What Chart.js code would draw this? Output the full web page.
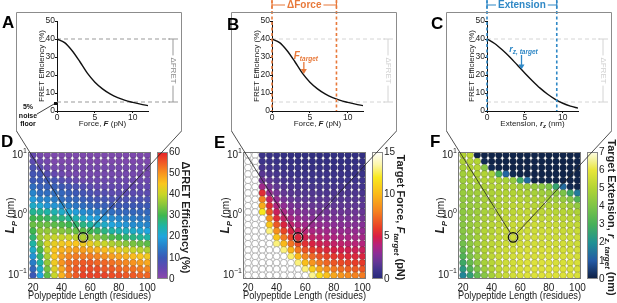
<!DOCTYPE html>
<html>
<head>
<meta charset="utf-8">
<title>FRET sensor design space</title>
<script src="https://cdn.jsdelivr.net/npm/chart.js@4.4.1/dist/chart.umd.min.js"></script>
<style>
  html, body { margin: 0; padding: 0; background: #fff; }
  #wrap { position: relative; width: 617px; height: 303px; overflow: hidden; }
  canvas { position: absolute; }
  #overlay { pointer-events: none; }
</style>
</head>
<body>
<div id="wrap">
  <canvas id="chartA" width="205" height="132" style="left:0;top:0"></canvas>
  <canvas id="chartB" width="205" height="132" style="left:215px;top:0"></canvas>
  <canvas id="chartC" width="187" height="132" style="left:430px;top:0"></canvas>
  <canvas id="chartD" width="205" height="175" style="left:0;top:128px"></canvas>
  <canvas id="chartE" width="205" height="175" style="left:215px;top:128px"></canvas>
  <canvas id="chartF" width="187" height="175" style="left:430px;top:128px"></canvas>
  <canvas id="overlay" width="617" height="303" style="left:0;top:0"></canvas>
</div>
<script>
const FONT = '"Liberation Sans", Arial, sans-serif';
Chart.defaults.font.family = FONT;

// top row: FRET efficiency vs force / extension
const forceX = [0, 1, 2, 3, 4, 5, 6, 7, 8, 9, 10, 11, 12];
const fretVsForce = [40, 38, 33.5, 27.5, 21, 16, 12.3, 9.5, 7.4, 5.9, 4.8, 3.8, 3.0];
const extX = [0, 1, 2, 3, 4, 5, 6, 7, 8, 9, 10, 11, 12];
const fretVsExt = [40, 37.5, 34, 30, 25.5, 21, 16.7, 12.7, 9.3, 6.5, 4.3, 2.7, 1.6];
const curveXTicks = [0, 5, 10];
const fretTicks = [0, 10, 20, 30, 40, 50];
const fretMax = 40, fretFloor = 5;
const deltaForceEnd = 8.5, forceTarget = 4.2, fretAtForceTarget = 20;
const deltaExtEnd = 9.2, extTarget = 4.55, fretAtExtTarget = 22.5;

// bottom row: grids over polypeptide length x persistence length
const lengths = [20, 25, 30, 35, 40, 45, 50, 55, 60, 65, 70, 75, 80, 85, 90, 95, 100];
const lpValues = [10, 7.848, 6.158, 4.833, 3.793, 2.976, 2.336, 1.833, 1.438, 1.129,
                  0.886, 0.695, 0.546, 0.428, 0.336, 0.264, 0.207, 0.162, 0.127, 0.1];
const lengthTicks = [20, 40, 60, 80, 100];
const lpTicks = [0.1, 1, 10];
const highlight = [55, 0.428];

// ΔFRET efficiency (%), rows top (Lp = 10) to bottom (Lp = 0.1)
const dfretRows = [
  [5, 3, 2, 2, 2, 2, 2, 2, 2, 2, 2, 2, 2, 2, 2, 2, 2],
  [6, 4, 3, 2, 2, 2, 2, 2, 2, 2, 2, 2, 2, 2, 2, 2, 2],
  [8, 6, 4, 3, 3, 3, 3, 3, 3, 3, 3, 3, 3, 3, 3, 3, 3],
  [9, 9, 7, 5, 4, 3, 3, 3, 3, 3, 3, 3, 3, 3, 3, 3, 3],
  [10, 10, 10, 9, 7, 6, 5, 4, 4, 4, 4, 4, 4, 4, 4, 4, 4],
  [13, 11, 11, 11, 10, 9, 8, 7, 6, 5, 5, 5, 5, 5, 5, 5, 5],
  [16, 13, 13, 13, 12, 11, 10, 9, 8, 7, 7, 6, 6, 6, 6, 6, 6],
  [19, 16, 16, 15, 13, 12, 12, 11, 10, 9, 9, 8, 8, 8, 8, 8, 8],
  [22, 21, 18, 18, 17, 15, 14, 13, 12, 11, 11, 10, 10, 10, 10, 10, 10],
  [26, 26, 25, 24, 22, 21, 19, 17, 16, 15, 14, 13, 12, 12, 12, 12, 12],
  [30, 30, 29, 28, 27, 26, 24, 22, 20, 19, 18, 17, 16, 15, 15, 14, 14],
  [33, 33, 33, 32, 31, 30, 28, 27, 25, 23, 22, 20, 19, 18, 17, 17, 16],
  [30, 36, 36, 36, 35, 34, 33, 32, 30, 29, 27, 25, 24, 23, 22, 21, 20],
  [28, 37, 39, 40, 40, 40, 39, 38, 36, 35, 33, 31, 30, 28, 27, 26, 25],
  [25, 34, 41, 43, 44, 45, 45, 44, 43, 41, 40, 38, 37, 35, 34, 33, 32],
  [22, 31, 40, 45, 47, 48, 49, 49, 48, 47, 46, 44, 43, 42, 40, 39, 38],
  [18, 28, 38, 45, 49, 51, 52, 52, 52, 51, 50, 49, 48, 47, 46, 45, 44],
  [15, 25, 36, 44, 50, 53, 54, 55, 55, 54, 54, 53, 52, 51, 50, 49, 48],
  [12, 22, 34, 42, 48, 53, 55, 56, 56, 56, 55, 55, 54, 53, 53, 52, 51],
  [10, 20, 32, 40, 47, 52, 55, 57, 57, 57, 57, 56, 56, 55, 55, 54, 54]
];

// target force (pN); null = no target (white circle)
const N = null;
const forceRows = [
  [N, N, 0.9, 0.8, 0.7, 0.6, 0.6, 0.5, 0.5, 0.5, 0.5, 0.5, 0.5, 0.5, 0.5, 0.5, 0.5],
  [N, N, 1.0, 0.9, 0.8, 0.7, 0.7, 0.6, 0.6, 0.6, 0.6, 0.6, 0.6, 0.6, 0.6, 0.6, 0.6],
  [N, N, 1.3, 1.1, 1.0, 0.9, 0.8, 0.8, 0.7, 0.7, 0.7, 0.7, 0.7, 0.7, 0.7, 0.7, 0.7],
  [N, N, 1.7, 1.4, 1.2, 1.1, 1.0, 0.9, 0.9, 0.9, 0.9, 0.9, 0.9, 0.9, 0.8, 0.8, 0.8],
  [N, N, 2.4, 1.8, 1.5, 1.3, 1.2, 1.1, 1.1, 1.0, 1.0, 1.0, 1.0, 1.0, 1.0, 1.0, 1.0],
  [N, N, 3.5, 2.4, 1.9, 1.6, 1.4, 1.3, 1.3, 1.2, 1.2, 1.2, 1.2, 1.2, 1.2, 1.2, 1.1],
  [N, N, 5.5, 3.3, 2.5, 2.0, 1.7, 1.6, 1.5, 1.5, 1.4, 1.4, 1.4, 1.4, 1.4, 1.4, 1.3],
  [N, N, 8.0, 4.5, 3.2, 2.5, 2.1, 1.9, 1.8, 1.7, 1.7, 1.7, 1.6, 1.6, 1.6, 1.6, 1.6],
  [N, N, 9.5, 5.5, 3.9, 3.1, 2.6, 2.3, 2.2, 2.1, 2.0, 2.0, 1.9, 1.9, 1.9, 1.9, 1.8],
  [N, N, 12, 6.8, 4.6, 3.7, 3.1, 2.8, 2.6, 2.5, 2.4, 2.3, 2.3, 2.2, 2.2, 2.2, 2.1],
  [N, N, N, 8.5, 5.5, 4.4, 3.7, 3.3, 3.0, 2.9, 2.8, 2.7, 2.6, 2.6, 2.5, 2.5, 2.4],
  [N, N, N, 10.5, 6.8, 5.2, 4.3, 3.8, 3.5, 3.3, 3.2, 3.1, 3.0, 2.9, 2.9, 2.8, 2.8],
  [N, N, N, 13, 8.5, 6.3, 5.1, 4.5, 4.1, 3.8, 3.6, 3.5, 3.4, 3.3, 3.3, 3.2, 3.2],
  [N, N, N, N, 10.5, 7.8, 6.2, 5.3, 4.8, 4.4, 4.2, 4.0, 3.9, 3.8, 3.7, 3.6, 3.6],
  [N, N, N, N, 13, 10, 7.6, 6.4, 5.6, 5.1, 4.8, 4.6, 4.4, 4.3, 4.2, 4.1, 4.0],
  [N, N, N, N, N, 13, 9.8, 7.8, 6.7, 6.0, 5.6, 5.3, 5.0, 4.9, 4.8, 4.7, 4.6],
  [N, N, N, N, N, N, 12.8, 10, 8.2, 7.2, 6.6, 6.2, 5.8, 5.6, 5.4, 5.3, 5.2],
  [N, N, N, N, N, N, N, 13, 10.2, 8.7, 7.8, 7.2, 6.7, 6.4, 6.2, 6.0, 5.9],
  [N, N, N, N, N, N, N, N, 13, 10.8, 9.4, 8.5, 7.8, 7.4, 7.1, 6.9, 6.7],
  [N, N, N, N, N, N, N, N, N, 13.2, 11.5, 10.3, 9.3, 8.7, 8.3, 8.0, 7.8]
];

// target extension (nm)
const extRows = [
  [5.0, 5.2, 0.1, 0.1, 0.1, 0.1, 0.1, 0.1, 0.1, 0.1, 0.1, 0.1, 0.1, 0.1, 0.1, 0.1, 0.1],
  [4.9, 5.1, 5.0, 0.2, 0.1, 0.1, 0.1, 0.1, 0.1, 0.1, 0.1, 0.1, 0.1, 0.1, 0.1, 0.1, 0.1],
  [4.8, 5.0, 5.1, 4.2, 0.2, 0.1, 0.1, 0.1, 0.1, 0.1, 0.1, 0.1, 0.1, 0.1, 0.1, 0.1, 0.1],
  [4.7, 4.9, 5.0, 5.0, 4.8, 3.0, 1.2, 0.2, 0.1, 0.1, 0.1, 0.1, 0.1, 0.1, 0.1, 0.1, 0.1],
  [4.6, 4.8, 4.9, 5.0, 5.0, 4.9, 4.8, 4.5, 2.8, 1.3, 0.1, 0.1, 0.1, 0.1, 0.1, 0.1, 0.1],
  [4.6, 4.7, 4.8, 4.9, 5.0, 5.0, 5.0, 4.9, 4.8, 4.7, 4.5, 4.3, 4.0, 2.6, 1.3, 0.2, 0.1],
  [4.5, 4.6, 4.7, 4.8, 4.9, 5.0, 5.0, 5.0, 5.0, 4.9, 4.8, 4.7, 4.6, 4.4, 4.0, 2.8, 1.6],
  [4.4, 4.5, 4.6, 4.8, 4.9, 5.0, 5.1, 5.1, 5.1, 5.0, 5.0, 4.9, 4.8, 4.7, 4.5, 4.2, 3.2],
  [4.4, 4.5, 4.6, 4.8, 4.9, 5.0, 5.1, 5.2, 5.2, 5.2, 5.1, 5.1, 5.0, 5.0, 4.9, 4.7, 4.4],
  [4.3, 4.5, 4.6, 4.8, 4.9, 5.1, 5.2, 5.2, 5.3, 5.3, 5.3, 5.2, 5.2, 5.1, 5.1, 5.0, 4.9],
  [4.3, 4.5, 4.7, 4.9, 5.0, 5.2, 5.3, 5.3, 5.4, 5.4, 5.4, 5.3, 5.3, 5.3, 5.2, 5.2, 5.1],
  [4.2, 4.5, 4.7, 4.9, 5.1, 5.2, 5.3, 5.4, 5.4, 5.5, 5.5, 5.4, 5.4, 5.4, 5.3, 5.3, 5.3],
  [4.2, 4.5, 4.7, 5.0, 5.1, 5.3, 5.4, 5.4, 5.5, 5.5, 5.5, 5.5, 5.5, 5.5, 5.4, 5.4, 5.4],
  [4.1, 4.4, 4.7, 5.0, 5.2, 5.3, 5.4, 5.5, 5.5, 5.6, 5.6, 5.6, 5.5, 5.5, 5.5, 5.5, 5.5],
  [3.8, 4.3, 4.7, 5.0, 5.2, 5.3, 5.5, 5.5, 5.6, 5.6, 5.6, 5.6, 5.6, 5.6, 5.6, 5.5, 5.5],
  [3.5, 4.2, 4.6, 5.0, 5.2, 5.4, 5.5, 5.6, 5.6, 5.7, 5.7, 5.7, 5.7, 5.6, 5.6, 5.6, 5.6],
  [3.2, 4.0, 4.5, 4.9, 5.2, 5.4, 5.5, 5.6, 5.7, 5.7, 5.7, 5.7, 5.7, 5.7, 5.7, 5.7, 5.6],
  [2.8, 3.6, 4.3, 4.8, 5.1, 5.4, 5.5, 5.6, 5.7, 5.8, 5.8, 5.8, 5.8, 5.7, 5.7, 5.7, 5.7],
  [2.3, 3.2, 4.0, 4.6, 5.0, 5.3, 5.5, 5.6, 5.7, 5.8, 5.8, 5.8, 5.8, 5.8, 5.8, 5.7, 5.7],
  [1.8, 2.5, 3.5, 4.2, 4.8, 5.2, 5.4, 5.6, 5.7, 5.8, 5.8, 5.8, 5.8, 5.8, 5.8, 5.8, 5.7]
];

const dfretCbTicks = [0, 10, 20, 30, 40, 50, 60];
const forceCbTicks = [0, 5, 10, 15];
const extCbTicks = [0, 1, 2, 3, 4, 5, 6, 7];

// colour maps (value, rgb)
const dfretStops = [[0, [142, 72, 172]], [5, [100, 72, 176]], [10, [60, 88, 182]], [15, [40, 125, 200]],
  [20, [32, 165, 222]], [25, [30, 180, 165]], [30, [62, 183, 80]], [35, [135, 198, 60]],
  [40, [200, 214, 40]], [45, [250, 198, 30]], [50, [248, 148, 30]], [55, [240, 90, 38]], [60, [228, 32, 42]]];
const forceStops = [[0, [38, 40, 120]], [1, [62, 52, 140]], [2, [100, 55, 150]], [3, [140, 45, 150]],
  [4, [180, 35, 125]], [5, [215, 30, 70]], [6, [232, 60, 40]], [8, [245, 130, 32]], [10, [250, 185, 25]],
  [12, [248, 232, 30]], [13.5, [252, 246, 170]], [15, [255, 255, 255]]];
const extStops = [[0, [14, 30, 64]], [1, [36, 90, 165]], [2, [32, 145, 148]], [3, [70, 175, 90]],
  [4, [125, 196, 72]], [5, [178, 212, 52]], [6, [232, 229, 58]], [7, [253, 253, 232]]];

const ORANGE = '#e8793a';
const BLUE = '#2f88c6';

function rgb(c) { return `rgb(${c.map(Math.round).join(',')})`; }
function colorMap(stops) {
  return v => {
    if (v <= stops[0][0]) return rgb(stops[0][1]);
    for (let i = 1; i < stops.length; i++) {
      if (v <= stops[i][0]) {
        const [v0, c0] = stops[i - 1], [v1, c1] = stops[i];
        const t = (v - v0) / (v1 - v0);
        return rgb(c0.map((c, k) => c + (c1[k] - c) * t));
      }
    }
    return rgb(stops[stops.length - 1][1]);
  };
}

// draw a run of text pieces [text, font, dy]
function richText(ctx, parts, x, y, align) {
  let w = 0;
  parts.forEach(p => { ctx.font = p[1]; w += ctx.measureText(p[0]).width; });
  let cx = align === 'center' ? x - w / 2 : x;
  ctx.textAlign = 'left';
  ctx.textBaseline = 'alphabetic';
  parts.forEach(p => {
    ctx.font = p[1];
    ctx.fillText(p[0], cx, y + (p[2] || 0));
    cx += ctx.measureText(p[0]).width;
  });
}

function seg(ctx, x1, y1, x2, y2) {
  ctx.beginPath(); ctx.moveTo(x1, y1); ctx.lineTo(x2, y2); ctx.stroke();
}

// dashed 40% / 5% lines with ΔFRET bracket
function fretBracket(lineColor, textColor) {
  return {
    id: 'fretBracket',
    beforeDatasetsDraw(chart) {
      const { ctx, chartArea: a, scales: { y } } = chart;
      const yTop = y.getPixelForValue(fretMax), yBot = y.getPixelForValue(fretFloor);
      const xEnd = a.left + 113, xb = a.left + 116;
      ctx.save();
      ctx.strokeStyle = lineColor; ctx.lineWidth = 1;
      ctx.setLineDash([4, 3]);
      seg(ctx, a.left, yTop, xEnd, yTop);
      seg(ctx, a.left, yBot, xEnd, yBot);
      ctx.setLineDash([]);
      seg(ctx, xb, yTop, xb, yBot);
      seg(ctx, xb - 5, yTop, xb + 5, yTop);
      seg(ctx, xb - 5, yBot, xb + 5, yBot);
      ctx.translate(xb, (yTop + yBot) / 2);
      ctx.rotate(Math.PI / 2);
      ctx.font = `8px ${FONT}`;
      const w = ctx.measureText('ΔFRET').width;
      ctx.fillStyle = '#fff';
      ctx.fillRect(-w / 2 - 2, -5, w + 4, 10);
      ctx.fillStyle = textColor;
      ctx.textAlign = 'center'; ctx.textBaseline = 'middle';
      ctx.fillText('ΔFRET', 0, 0);
      ctx.restore();
    }
  };
}

function xTitle(parts) {
  return {
    id: 'xTitle',
    afterDraw(chart) {
      const { ctx, chartArea: a } = chart;
      ctx.save();
      ctx.fillStyle = '#222';
      richText(ctx, parts, (a.left + a.right) / 2, 125.5, 'center');
      ctx.restore();
    }
  };
}

// range bracket + target arrow for panels B and C
function targetDecor(color, endX, label, tx, ty, labelParts, labelY) {
  return {
    id: 'targetDecor',
    afterDatasetsDraw(chart) {
      const { ctx, chartArea: a, scales: { x, y } } = chart;
      const x0 = x.getPixelForValue(0), x1 = x.getPixelForValue(endX);
      ctx.save();
      ctx.strokeStyle = color; ctx.lineWidth = 1.6;
      ctx.setLineDash([3, 2.5]);
      seg(ctx, x0, 0, x0, a.bottom);
      seg(ctx, x1, 0, x1, a.bottom);
      ctx.setLineDash([]);
      ctx.lineWidth = 1.2;
      seg(ctx, x0, 5, x1, 5);
      seg(ctx, x0, 1, x0, 9);
      seg(ctx, x1, 1, x1, 9);
      ctx.font = `bold 10px ${FONT}`;
      const w = ctx.measureText(label).width, cx = (x0 + x1) / 2;
      ctx.fillStyle = '#fff';
      ctx.fillRect(cx - w / 2 - 2, 0, w + 4, 11);
      ctx.fillStyle = color;
      ctx.textAlign = 'center'; ctx.textBaseline = 'middle';
      ctx.fillText(label, cx, 5.5);
      // arrow to the curve
      const ax = x.getPixelForValue(tx), tip = y.getPixelForValue(ty) - 1;
      ctx.lineWidth = 1.3;
      seg(ctx, ax, labelY + 3, ax, tip - 4);
      ctx.beginPath();
      ctx.moveTo(ax, tip); ctx.lineTo(ax - 3, tip - 5); ctx.lineTo(ax + 3, tip - 5);
      ctx.closePath(); ctx.fill();
      richText(ctx, labelParts, ax + 2, labelY, 'center');
      ctx.restore();
    }
  };
}

const noiseFloor = {
  id: 'noiseFloor',
  afterDraw(chart) {
    const ctx = chart.ctx;
    ctx.save();
    ctx.fillStyle = '#111'; ctx.strokeStyle = '#111'; ctx.lineWidth = 0.8;
    ctx.font = `bold 7px ${FONT}`;
    ctx.textAlign = 'center'; ctx.textBaseline = 'middle';
    ctx.fillText('5%', 28, 107);
    ctx.fillText('noise', 28, 116);
    ctx.fillText('floor', 28, 124);
    seg(ctx, 37, 114, 54, 104);
    ctx.fillRect(54, 102, 3, 3);
    ctx.restore();
  }
};

function curveChart(id, xs, ys, padRight, plugins) {
  const tickFont = { size: 8.5, family: FONT };
  return new Chart(document.getElementById(id), {
    type: 'scatter',
    data: {
      datasets: [{
        data: xs.map((x, i) => ({ x, y: ys[i] })),
        showLine: true, borderColor: '#111', borderWidth: 1.4,
        pointRadius: 0, cubicInterpolationMode: 'monotone'
      }]
    },
    options: {
      responsive: false, animation: false, events: [],
      layout: { padding: { left: 37, top: 21, right: padRight, bottom: 0 } },
      plugins: { legend: { display: false }, tooltip: { enabled: false } },
      scales: {
        x: {
          type: 'linear', min: 0, max: 12,
          afterBuildTicks: s => { s.ticks = curveXTicks.map(value => ({ value })); },
          afterFit: s => { s.height = 21; },
          grid: { drawOnChartArea: false, tickLength: 2, color: '#111' },
          border: { color: '#111', width: 1 },
          ticks: { font: tickFont, color: '#222', padding: 0, maxRotation: 0 }
        },
        y: {
          min: 0, max: 50,
          afterBuildTicks: s => { s.ticks = fretTicks.map(value => ({ value })); },
          afterFit: s => { s.width = 20; },
          grid: { drawOnChartArea: false, tickLength: 2, color: '#111' },
          border: { color: '#111', width: 1 },
          ticks: { font: tickFont, color: '#222', padding: 0 },
          title: { display: true, text: 'FRET Efficiency (%)', font: { size: 8, family: FONT }, color: '#222', padding: 0 }
        }
      }
    },
    plugins
  });
}

function gridDecor(stops, cbMax, cbTitle, titleDx) {
  return {
    id: 'gridDecor',
    afterDatasetsDraw(chart) {
      const { ctx, chartArea: a } = chart;
      ctx.save();
      ctx.strokeStyle = '#7a7a7a'; ctx.lineWidth = 1;
      ctx.strokeRect(a.left + 0.5, a.top + 0.5, a.right - a.left - 1, a.bottom - a.top - 1);
      ctx.restore();
    },
    afterDraw(chart) {
      const { ctx, chartArea: a, scales: { y, cb } } = chart;
      ctx.save();
      // colour bar
      const bx = a.right + 6, bw = 11;
      const g = ctx.createLinearGradient(0, cb.bottom, 0, cb.top);
      stops.forEach(([v, c]) => g.addColorStop(v / cbMax, rgb(c)));
      ctx.fillStyle = g;
      ctx.fillRect(bx, cb.top, bw, cb.bottom - cb.top);
      ctx.strokeStyle = '#888'; ctx.lineWidth = 1;
      ctx.strokeRect(bx + 0.5, cb.top + 0.5, bw - 1, cb.bottom - cb.top - 1);
      // log tick labels
      ctx.fillStyle = '#222';
      lpTicks.forEach(v => {
        const py = y.getPixelForValue(v);
        const ex = String(Math.round(Math.log10(v))).replace('-', '\u2212');
        ctx.font = `7px ${FONT}`;
        const ew = ctx.measureText(ex).width;
        ctx.textAlign = 'right'; ctx.textBaseline = 'middle';
        ctx.fillText(ex, 27, py - 4);
        ctx.font = `10px ${FONT}`;
        ctx.fillText('10', 27 - ew, py);
      });
      // L_P axis title
      ctx.save();
      ctx.translate(10, (a.top + a.bottom) / 2);
      ctx.rotate(-Math.PI / 2);
      richText(ctx, [['L', `italic bold 12px ${FONT}`], ['P', `italic bold 8px ${FONT}`, 3],
        [' (nm)', `10px ${FONT}`]], 0, 4, 'center');
      ctx.restore();
      // colour bar title
      ctx.save();
      ctx.translate(bx + titleDx, (a.top + a.bottom) / 2 + 2);
      ctx.rotate(Math.PI / 2);
      richText(ctx, cbTitle, 0, 4, 'center');
      ctx.restore();
      ctx.restore();
    }
  };
}

function gridChart(id, rows, stops, cbMax, cbTicks, cbTitle, titleDx) {
  const el = document.getElementById(id);
  const cmap = colorMap(stops);
  const pts = [];
  lpValues.forEach((lp, r) => lengths.forEach((len, c) => pts.push({ x: len, y: lp, v: rows[r][c] })));
  const tickFont = { size: 10, family: FONT };
  return new Chart(el, {
    type: 'scatter',
    data: {
      datasets: [
        {
          data: [{ x: highlight[0], y: highlight[1] }], order: 0,
          pointRadius: 4.8, pointBorderWidth: 1.2, pointBorderColor: '#111',
          pointBackgroundColor: 'rgba(0,0,0,0)'
        },
        {
          data: pts, order: 1, pointRadius: 3.4, pointBorderWidth: 0.6,
          pointBackgroundColor: c => (c.raw && c.raw.v != null ? cmap(c.raw.v) : '#fff'),
          pointBorderColor: c => (c.raw && c.raw.v != null ? 'rgba(40,40,40,0.35)' : '#8a8a8a')
        }
      ]
    },
    options: {
      responsive: false, animation: false, events: [],
      layout: { padding: { left: 0, top: 12, right: 0, bottom: 0 } },
      plugins: { legend: { display: false }, tooltip: { enabled: false } },
      scales: {
        x: {
          type: 'linear', min: 16.5, max: 102.5,
          afterBuildTicks: s => { s.ticks = lengthTicks.map(value => ({ value })); },
          afterFit: s => { s.height = 23; },
          grid: { display: false, drawTicks: false, tickLength: 0 }, border: { display: false },
          ticks: { font: tickFont, color: '#222', padding: 3, maxRotation: 0 },
          title: { display: true, text: 'Polypeptide Length (residues)', font: tickFont, color: '#222', padding: 0 }
        },
        y: {
          type: 'logarithmic', min: 0.087, max: 11.2,
          afterBuildTicks: s => { s.ticks = lpTicks.map(value => ({ value })); },
          afterFit: s => { s.width = 28; },
          grid: { display: false, drawTicks: false, tickLength: 0 }, border: { display: false },
          ticks: { display: false }
        },
        cb: {
          type: 'linear', position: 'right', min: 0, max: cbMax,
          afterBuildTicks: s => { s.ticks = cbTicks.map(value => ({ value })); },
          afterFit: s => { s.width = el.width - 151; },
          grid: { display: false, drawTicks: false, tickLength: 0 }, border: { display: false },
          ticks: { font: tickFont, color: '#222', padding: 18 }
        }
      }
    },
    plugins: [gridDecor(stops, cbMax, cbTitle, titleDx)]
  });
}

const f8 = `8px ${FONT}`, fi8 = `italic bold 8px ${FONT}`, fi6 = `italic bold 6px ${FONT}`;
const chartA = curveChart('chartA', forceX, fretVsForce, 57,
  [fretBracket('#999', '#888'), xTitle([['Force, ', f8], ['F', fi8], [' (pN)', f8]]), noiseFloor]);
const chartB = curveChart('chartB', forceX, fretVsForce, 57,
  [fretBracket('#d4d4d4', '#d0d0d0'), xTitle([['Force, ', f8], ['F', fi8], [' (pN)', f8]]),
   targetDecor(ORANGE, deltaForceEnd, 'ΔForce', forceTarget, fretAtForceTarget,
     [['F', `italic bold 10px ${FONT}`], ['target', `italic bold 6.5px ${FONT}`, 2]], 59)]);
const chartC = curveChart('chartC', extX, fretVsExt, 39,
  [fretBracket('#d4d4d4', '#d0d0d0'), xTitle([['Extension, ', f8], ['r', fi8], ['z', fi6, 2], [' (nm)', f8]]),
   targetDecor(BLUE, deltaExtEnd, 'Extension', extTarget, fretAtExtTarget,
     [['r', `italic bold 9px ${FONT}`], ['z, target', `italic bold 6.5px ${FONT}`, 2]], 52)]);

const b11 = `bold 11px ${FONT}`, bi11 = `italic bold 11px ${FONT}`, bi8 = `italic bold 8px ${FONT}`;
const chartD = gridChart('chartD', dfretRows, dfretStops, 60, dfretCbTicks,
  [['ΔFRET Efficiency (%)', b11]], 29);
const chartE = gridChart('chartE', forceRows, forceStops, 15, forceCbTicks,
  [['Target Force, ', b11], ['F', bi11], ['target', bi8, 3], [' (pN)', b11]], 29);
const chartF = gridChart('chartF', extRows, extStops, 7, extCbTicks,
  [['Target Extension, ', b11], ['r', bi11], ['z, target', bi8, 3], [' (nm)', b11]], 25);

// zoom-callout boxes, V lines to the highlighted point, panel letters
(function drawOverlay() {
  const ctx = document.getElementById('overlay').getContext('2d');
  [[chartD, 0], [chartE, 215], [chartF, 430]].forEach(([g, dx]) => {
    const cx = g.scales.x.getPixelForValue(highlight[0]) + dx;
    const cy = g.scales.y.getPixelForValue(highlight[1]) + 128;
    const L = dx + 16.5, R = dx + 181.5, T = 12.5, B = 131;
    ctx.strokeStyle = '#8c8c8c'; ctx.lineWidth = 1;
    ctx.beginPath(); ctx.moveTo(L, B); ctx.lineTo(L, T); ctx.lineTo(R, T); ctx.lineTo(R, B); ctx.stroke();
    ctx.strokeStyle = '#222'; ctx.lineWidth = 0.8;
    [L, R].forEach(px => {
      const d = Math.hypot(cx - px, cy - B), r = 4.8 / d;
      seg(ctx, px, B, cx - (cx - px) * r, cy - (cy - B) * r);
    });
  });
  ctx.fillStyle = '#000';
  ctx.font = `bold 17px ${FONT}`;
  ctx.textAlign = 'left'; ctx.textBaseline = 'alphabetic';
  [['A', 2, 28], ['B', 227, 30], ['C', 431, 29], ['D', 1, 147], ['E', 214, 148], ['F', 430, 147]]
    .forEach(([t, x, y]) => ctx.fillText(t, x, y));
})();
</script>
</body>
</html>
